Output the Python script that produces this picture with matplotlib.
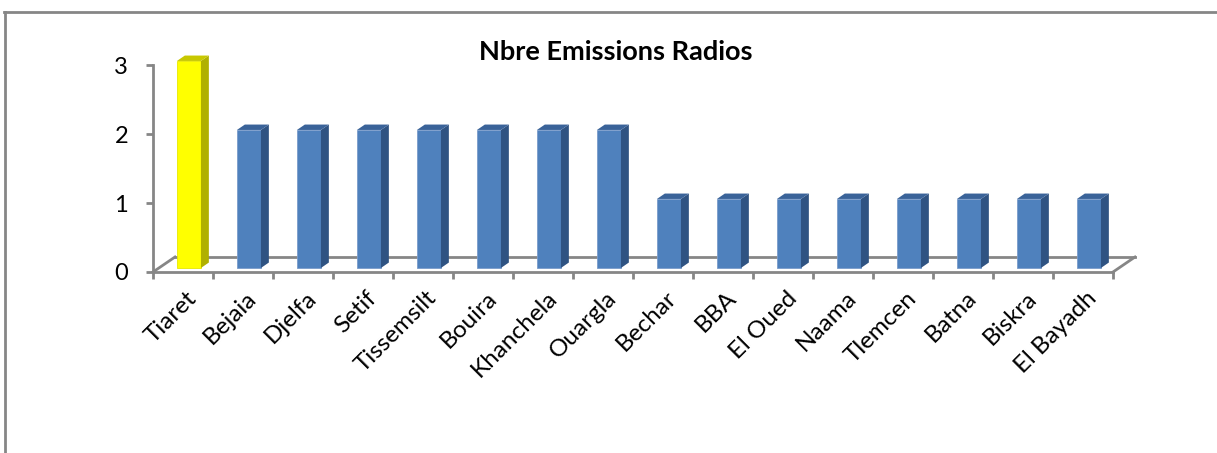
import matplotlib.pyplot as plt
from matplotlib.patches import Polygon
from matplotlib.lines import Line2D
from matplotlib.transforms import ScaledTranslation

plt.rcParams['font.family'] = ['Lato', 'DejaVu Sans']

wilayas = ["Tiaret", "Bejaia", "Djelfa", "Setif", "Tissemsilt", "Bouira", "Khanchela",
           "Ouargla", "Bechar", "BBA", "El Oued", "Naama", "Tlemcen", "Batna", "Biskra",
           "El Bayadh"]
emissions = [3, 2, 2, 2, 2, 2, 2, 2, 1, 1, 1, 1, 1, 1, 1, 1]

W, H = 1217, 453
fig = plt.figure(figsize=(W / 100, H / 100), dpi=100)
ax = fig.add_axes([153 / W, (H - 272) / H, 960 / W, 207 / H])
n = len(wilayas)
ax.set_xlim(0, n)
ax.set_ylim(0, 3)

grey = "#868686"
# 3d depth of the floor, in data units (1 category = 60px, 1 unit = 69px)
DX, DY = 22 / 60, 15 / 69
f0, f1 = 0.27, 0.63

# floor
ax.plot([DX, n + DX], [DY, DY], color=grey, lw=2, clip_on=False, zorder=1)
ax.plot([0, DX], [0, DY], color=grey, lw=2, clip_on=False, zorder=1)
ax.plot([n, n + DX], [0, DY], color=grey, lw=2, clip_on=False, zorder=1)

bw = 0.4
for i, v in enumerate(emissions):
    if i == 0:
        front, side, top = "#FFFF00", "#B0B000", "#C8C800"
    else:
        front, side, top = "#4F81BD", "#2F5382", "#3A6399"
    xl = i + 0.5 - bw / 2 + f0 * DX
    xr = xl + bw
    yb = f0 * DY
    yt = yb + v
    dx, dy = (f1 - f0) * DX, (f1 - f0) * DY
    ax.bar(xl, v, width=bw, bottom=yb, align="edge", color=front,
           edgecolor="#7A9CCB" if i else "#E8E800", lw=0.6, zorder=3, clip_on=False)
    ax.add_patch(Polygon([(xr, yb), (xr + dx, yb + dy), (xr + dx, yt + dy), (xr, yt)],
                         closed=True, facecolor=side, edgecolor="none", zorder=3, clip_on=False))
    ax.add_patch(Polygon([(xl, yt), (xl + dx, yt + dy), (xr + dx, yt + dy), (xr, yt)],
                         closed=True, facecolor=top, edgecolor="none", zorder=3, clip_on=False))

for s in ["top", "right"]:
    ax.spines[s].set_visible(False)
for s in ["left", "bottom"]:
    ax.spines[s].set_color(grey)
    ax.spines[s].set_linewidth(2)
    ax.spines[s].set_zorder(4)

ax.set_yticks([0, 1, 2, 3])
ax.tick_params(axis="y", length=5, width=2, color=grey, pad=13, labelsize=17)
ax.set_xticks(range(n + 1), minor=True)
ax.set_xticks([i + 0.5 for i in range(n)])
ax.set_xticklabels(wilayas, rotation=45, ha="right", rotation_mode="anchor", fontsize=17.5)
ax.tick_params(axis="x", which="major", length=0, pad=11)
ax.tick_params(axis="x", which="minor", length=5, width=2, color=grey)
shift = ScaledTranslation(3 / 100, 0, fig.dpi_scale_trans)
for lab in ax.get_xticklabels():
    lab.set_transform(lab.get_transform() + shift)

fig.text(616 / W, 1 - 52 / H, "Nbre Emissions Radios", ha="center", va="center",
         fontsize=19.5, fontweight="bold")

# chart area border (top and left sides visible)
fig.add_artist(Line2D([4 / W, 1], [1 - 12 / H, 1 - 12 / H], color=grey, lw=2))
fig.add_artist(Line2D([5 / W, 5 / W], [0, 1 - 12 / H], color=grey, lw=2))

fig.savefig("out.png", dpi=100)
